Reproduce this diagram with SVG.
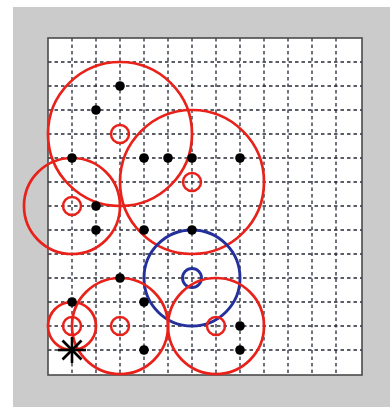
<svg xmlns="http://www.w3.org/2000/svg" width="390" height="407" viewBox="0 0 390 407">
<style>
.grid line{stroke:#262838;stroke-width:1.3;stroke-dasharray:3.5 3}
.big{fill:none;stroke:#e8221a;stroke-width:2.7}
.sm{fill:none;stroke:#e8221a;stroke-width:2.5}
.blue{fill:none;stroke:#24309c;stroke-width:2.9}
.dot{fill:#000}
</style>
<rect x="0" y="0" width="390" height="407" fill="#ffffff"/>
<rect x="13" y="7" width="377" height="400" fill="#cbcbcb"/>
<rect x="48" y="38" width="314" height="337" fill="#ffffff"/>
<g class="grid">
<line x1="72" y1="38" x2="72" y2="375"/>
<line x1="96" y1="38" x2="96" y2="375"/>
<line x1="120" y1="38" x2="120" y2="375"/>
<line x1="144" y1="38" x2="144" y2="375"/>
<line x1="168" y1="38" x2="168" y2="375"/>
<line x1="192" y1="38" x2="192" y2="375"/>
<line x1="216" y1="38" x2="216" y2="375"/>
<line x1="240" y1="38" x2="240" y2="375"/>
<line x1="264" y1="38" x2="264" y2="375"/>
<line x1="288" y1="38" x2="288" y2="375"/>
<line x1="312" y1="38" x2="312" y2="375"/>
<line x1="336" y1="38" x2="336" y2="375"/>
<line x1="48" y1="62" x2="362" y2="62"/>
<line x1="48" y1="86" x2="362" y2="86"/>
<line x1="48" y1="110" x2="362" y2="110"/>
<line x1="48" y1="134" x2="362" y2="134"/>
<line x1="48" y1="158" x2="362" y2="158"/>
<line x1="48" y1="182" x2="362" y2="182"/>
<line x1="48" y1="206" x2="362" y2="206"/>
<line x1="48" y1="230" x2="362" y2="230"/>
<line x1="48" y1="254" x2="362" y2="254"/>
<line x1="48" y1="278" x2="362" y2="278"/>
<line x1="48" y1="302" x2="362" y2="302"/>
<line x1="48" y1="326" x2="362" y2="326"/>
<line x1="48" y1="350" x2="362" y2="350"/>
</g>
<rect x="48" y="38" width="314" height="337" fill="none" stroke="#4a4a4a" stroke-width="1.6"/>
<g id="circles">
<g id="c1"><circle class="big" cx="120" cy="134" r="72"/><circle class="sm" cx="120" cy="134" r="9"/></g>
<g id="c2"><circle class="big" cx="192" cy="182" r="72"/><circle class="sm" cx="192" cy="182" r="9"/></g>
<g id="c3"><circle class="big" cx="72" cy="206" r="48"/><circle class="sm" cx="72" cy="206" r="9"/></g>
<g id="c4"><circle class="blue" cx="192" cy="278" r="48"/><circle class="blue" cx="192" cy="278" r="9.5"/></g>
<g id="c5"><circle class="big" cx="72" cy="326" r="24"/><circle class="sm" cx="72" cy="326" r="9"/></g>
<g id="c6"><circle class="big" cx="120" cy="326" r="48"/><circle class="sm" cx="120" cy="326" r="9"/></g>
<g id="c7"><circle class="big" cx="216" cy="326" r="48"/><circle class="sm" cx="216" cy="326" r="9"/></g>
</g>
<g id="dots" class="dot">
<circle cx="120" cy="86" r="4.8"/>
<circle cx="96" cy="110" r="4.8"/>
<circle cx="72" cy="158" r="4.8"/>
<circle cx="144" cy="158" r="4.8"/>
<circle cx="168" cy="158" r="4.8"/>
<circle cx="192" cy="158" r="4.8"/>
<circle cx="240" cy="158" r="4.8"/>
<circle cx="96" cy="206" r="4.8"/>
<circle cx="96" cy="230" r="4.8"/>
<circle cx="144" cy="230" r="4.8"/>
<circle cx="192" cy="230" r="4.8"/>
<circle cx="120" cy="278" r="4.8"/>
<circle cx="72" cy="302" r="4.8"/>
<circle cx="144" cy="302" r="4.8"/>
<circle cx="240" cy="326" r="4.8"/>
<circle cx="144" cy="350" r="4.8"/>
<circle cx="240" cy="350" r="4.8"/>
</g>
<g id="start" stroke="#000" stroke-width="2.6" stroke-linecap="butt">
<line x1="58" y1="350" x2="86" y2="350"/>
<line x1="72" y1="337" x2="72" y2="363"/>
<line x1="62.5" y1="340.5" x2="81.5" y2="359.5"/>
<line x1="62.5" y1="359.5" x2="81.5" y2="340.5"/>
</g>
</svg>
